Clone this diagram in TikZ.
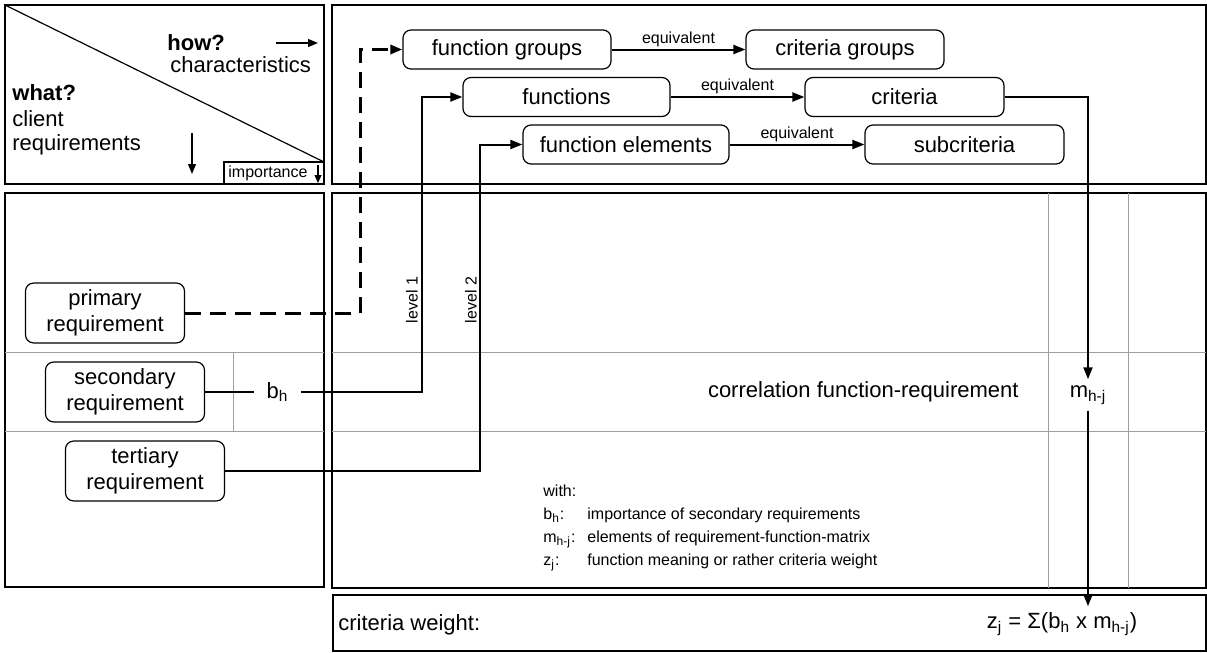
\documentclass[tikz,border=0pt]{standalone}
\usepackage{fontspec}
\setmainfont{Liberation Sans}
\usetikzlibrary{arrows.meta,positioning}

\begin{document}
\begin{tikzpicture}[x=0.5pt,y=-0.5pt,
  frame/.style={draw=black,line width=1pt},
  thin grid/.style={draw=gray!75,line width=0.5pt},
  fbox/.style={draw,rounded corners=4pt,line width=0.6pt,minimum height=19.5pt,font=\fontsize{11}{13}\selectfont},
  rbox/.style={draw,rounded corners=4pt,line width=0.6pt,minimum width=79.5pt,minimum height=29.5pt,align=center,font=\fontsize{11}{13}\selectfont},
  big/.style={inner sep=0pt,font=\fontsize{11}{13}\selectfont},
  small/.style={inner sep=1pt,font=\fontsize{8}{11.5}\selectfont},
  conn/.style={line width=1pt,-{Triangle[length=6pt,width=4.5pt]}},
  dconn/.style={line width=1.5pt,dash pattern=on 8pt off 4.5pt,-{Triangle[length=6pt,width=4.5pt]}},
  line/.style={line width=1pt}]
  \useasboundingbox (0,0) rectangle (1207,653);

  % frames
  \draw[frame] (5,5) rectangle (324,184);
  \draw[frame] (332,5) rectangle (1206,184);
  \draw[frame] (5,193) rectangle (324,587);
  \draw[frame] (332,193) rectangle (1206,588);
  \draw[frame] (333,595) rectangle (1206,651);

  % grid of the matrix
  \draw[thin grid] (5,352) -- (324,352);
  \draw[thin grid] (5,431) -- (324,431);
  \draw[thin grid] (233,352) -- (233,431);
  \draw[thin grid] (332,352) -- (1206,352);
  \draw[thin grid] (332,431) -- (1206,431);
  \draw[thin grid] (1048,193) -- (1048,588);
  \draw[thin grid] (1128,193) -- (1128,588);

  % roof corner
  \draw[line width=0.6pt] (5,5) -- (324,162);
  \draw[line width=0.6pt] (224,162) rectangle (324,184);
  \node[small,anchor=west] (imp) at (226,173) {importance};
  \node[big,anchor=base west] (how) at (167,50) {\textbf{how?}};
  \node[big,anchor=base west] (chr) at (170,72.7) {characteristics};
  \node[big,anchor=base west] (what) at (12,100.7) {\textbf{what?}};
  \node[big,anchor=base west] (cli) at (12,126.7) {client};
  \node[big,anchor=base west] (req) at (12,150.7) {requirements};
  \coordinate (h1) at (276,43);
  \coordinate (h2) at (318,43);
  \coordinate (w1) at (192,133);
  \coordinate (w2) at (192,174);
  \coordinate (i1) at (318,165);
  \coordinate (i2) at (318,183);
  \draw[line width=0.6pt,-{Triangle[length=5pt,width=4pt]}] (h1) -- (h2);
  \draw[line width=0.6pt,-{Triangle[length=5pt,width=4pt]}] (w1) -- (w2);
  \draw[line width=0.6pt,-{Triangle[length=4pt,width=3.5pt]}] (i1) -- (i2);

  % characteristics
  \node[fbox,minimum width=104pt] (fgr) at (507,49.5) {function groups};
  \node[fbox,minimum width=99pt] (cgr) at (845,49.5) {criteria groups};
  \node[fbox,minimum width=103.5pt] (fun) at (566.5,97) {functions};
  \node[fbox,minimum width=99.5pt] (crt) at (904.5,97) {criteria};
  \node[fbox,minimum width=103pt] (fel) at (626,144.5) {function elements};
  \node[fbox,minimum width=99.5pt] (sub) at (964.5,144.5) {subcriteria};

  \draw[conn] (fgr) -- node[small,above] {equivalent} (cgr);
  \draw[conn] (fun) -- node[small,above] {equivalent} (crt);
  \draw[conn] (fel) -- node[small,above] {equivalent} (sub);

  % requirements
  \node[rbox] (prim) at (105,313) {primary\\requirement};
  \node[rbox] (sec) at (125,392) {secondary\\requirement};
  \node[rbox] (tert) at (145,471) {tertiary\\requirement};
  \node[big,inner xsep=6pt] (bh) at (277.5,392) {b\textsubscript{h}};

  \coordinate (k0) at (360,49.5);
  \coordinate (k1) at (422,97);
  \coordinate (k2) at (480,144.5);
  \draw[dconn] (prim.east) -| (k0) -- (fgr.west);
  \draw[line] (sec.east) -- (bh.west);
  \draw[conn] (bh.east) -| (k1) -- (fun.west);
  \draw[conn] (tert.east) -| (k2) -- (fel.west);
  \node[small,rotate=90] (lv1) at (412,300) {level 1};
  \node[small,rotate=90] (lv2) at (471,300) {level 2};

  % correlation
  \node[big,anchor=east] (cor) at (1019,392) {correlation function-requirement};
  \node[big,inner sep=3pt] (mhj) at (1088,395) {m\textsubscript{h-j}};
  \node[big,inner sep=3pt] (zj) at (1062,624) {z\textsubscript{j} = Σ(b\textsubscript{h} x m\textsubscript{h-j})};
  \node[big,anchor=west] (cw) at (338,625) {criteria weight:};
  \draw[conn] (crt.east) -| (mhj.north);
  \draw[conn] (mhj.south) -- (mhj.south |- zj.north);

  % legend
  \node[small,inner sep=0pt,anchor=north west] (leg) at (543,480) {%
    \begin{tabular}{@{}p{22pt}@{}l@{}}
      \multicolumn{2}{@{}l@{}}{with:}\\
      b\textsubscript{h}: & importance of secondary requirements\\
      m\textsubscript{h-j}: & elements of requirement-function-matrix\\
      z\textsubscript{j}: & function meaning or rather criteria weight
    \end{tabular}};
\end{tikzpicture}
\end{document}
